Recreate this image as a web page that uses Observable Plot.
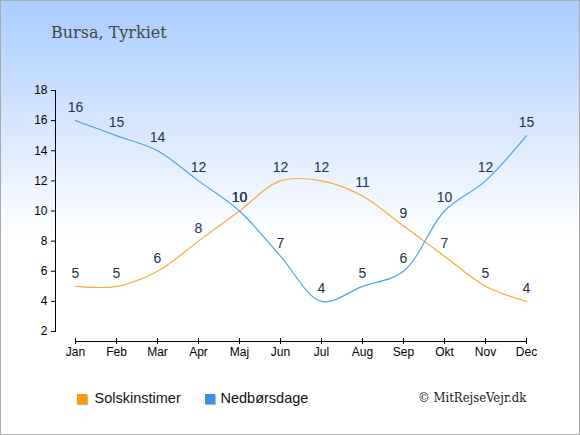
<!DOCTYPE html>
<html><head><meta charset="utf-8">
<script src="https://cdn.jsdelivr.net/npm/d3@7"></script>
<script src="https://cdn.jsdelivr.net/npm/@observablehq/plot@0.6"></script>
<style>
body{margin:0}
#c{position:relative;width:578px;height:433px;border:1px solid #aaa;background:linear-gradient(#aaccff 0%, #ffffff 55%, #ffffff 100%);overflow:hidden;font-family:"Liberation Sans",Arial,sans-serif}
#c svg{position:absolute;left:0;top:0}
.t{position:absolute;line-height:1;white-space:nowrap}
.sq{position:absolute;width:10px;height:10px;box-shadow:1px 1px 1px #bbb}
</style></head><body><div id="c"></div>
<script>
const months = ["Jan","Feb","Mar","Apr","Maj","Jun","Jul","Aug","Sep","Okt","Nov","Dec"];
const sun = [5,5,6,8,10,12,12,11,9,7,5,4];
const rain = [16,15,14,12,10,7,4,5,6,10,12,15];
const yTicks = [2,4,6,8,10,12,14,16,18];
const yDomain = [2,18];
const title = "Bursa, Tyrkiet";
const seriesNames = ["Solskinstimer","Nedbørsdage"];
const lineColors = ["#ffa833","#4ea2ea"];
const legendColors = ["#ff9900","#3890e6"];
const credit = "© MitRejseVejr.dk";
const labelColor = "#22324f";

const sunData = months.map((m,i)=>({month:m, value:sun[i]}));
const rainData = months.map((m,i)=>({month:m, value:rain[i]}));

const c = document.getElementById("c");
const chart = Plot.plot({
  width:578, height:433,
  marginTop:89, marginBottom:103, marginLeft:54, marginRight:53,
  x:{type:"point", domain:months, range:[73,525], padding:0},
  y:{domain:yDomain, range:[330,89]},
  style:{background:"transparent", fontFamily:"'Liberation Sans',Arial,sans-serif", fontSize:"12px", color:"#000"},
  marks:[
    Plot.frame({anchor:"left", stroke:"#000"}),
    Plot.axisY({ticks:yTicks, tickSize:4, tickPadding:4, label:null, fontSize:12}),
    Plot.axisX({tickSize:6, dy:7, label:null, fontSize:12}),
    Plot.ruleY([yDomain[0]], {x1:()=>months[0], x2:()=>months[months.length-1], dy:10, stroke:"#000"}),
    Plot.line(sunData, {x:"month", y:"value", stroke:lineColors[0], strokeWidth:1.2, curve:"catmull-rom"}),
    Plot.line(rainData, {x:"month", y:"value", stroke:lineColors[1], strokeWidth:1.2, curve:"catmull-rom"}),
    Plot.text(sunData, {x:"month", y:"value", text:"value", dy:-13, fontSize:14, fill:labelColor}),
    Plot.text(rainData, {x:"month", y:"value", text:"value", dy:-13, fontSize:14, fill:labelColor})
  ]
});
c.appendChild(chart);

function addText(txt, left, top, css){
  const d = document.createElement("div");
  d.className = "t"; d.textContent = txt;
  d.style.left = left+"px"; d.style.top = top+"px";
  Object.assign(d.style, css);
  c.appendChild(d);
}
function addSq(color, left, top){
  const d = document.createElement("div");
  d.className = "sq"; d.style.background = color;
  d.style.left = left+"px"; d.style.top = top+"px";
  c.appendChild(d);
}
addText(title, 50, 24, {fontFamily:"'DejaVu Serif',serif", fontSize:"16px", color:"#444"});
addSq(legendColors[0], 76, 393);
addText(seriesNames[0], 93.5, 390, {fontSize:"14.5px", color:"#111"});
addSq(legendColors[1], 204, 393);
addText(seriesNames[1], 219.5, 390, {fontSize:"14.5px", color:"#111"});
addText(credit, 417, 390, {fontFamily:"'DejaVu Serif',serif", fontStretch:"condensed", fontSize:"13px", color:"#222"});
</script>
</body></html>
